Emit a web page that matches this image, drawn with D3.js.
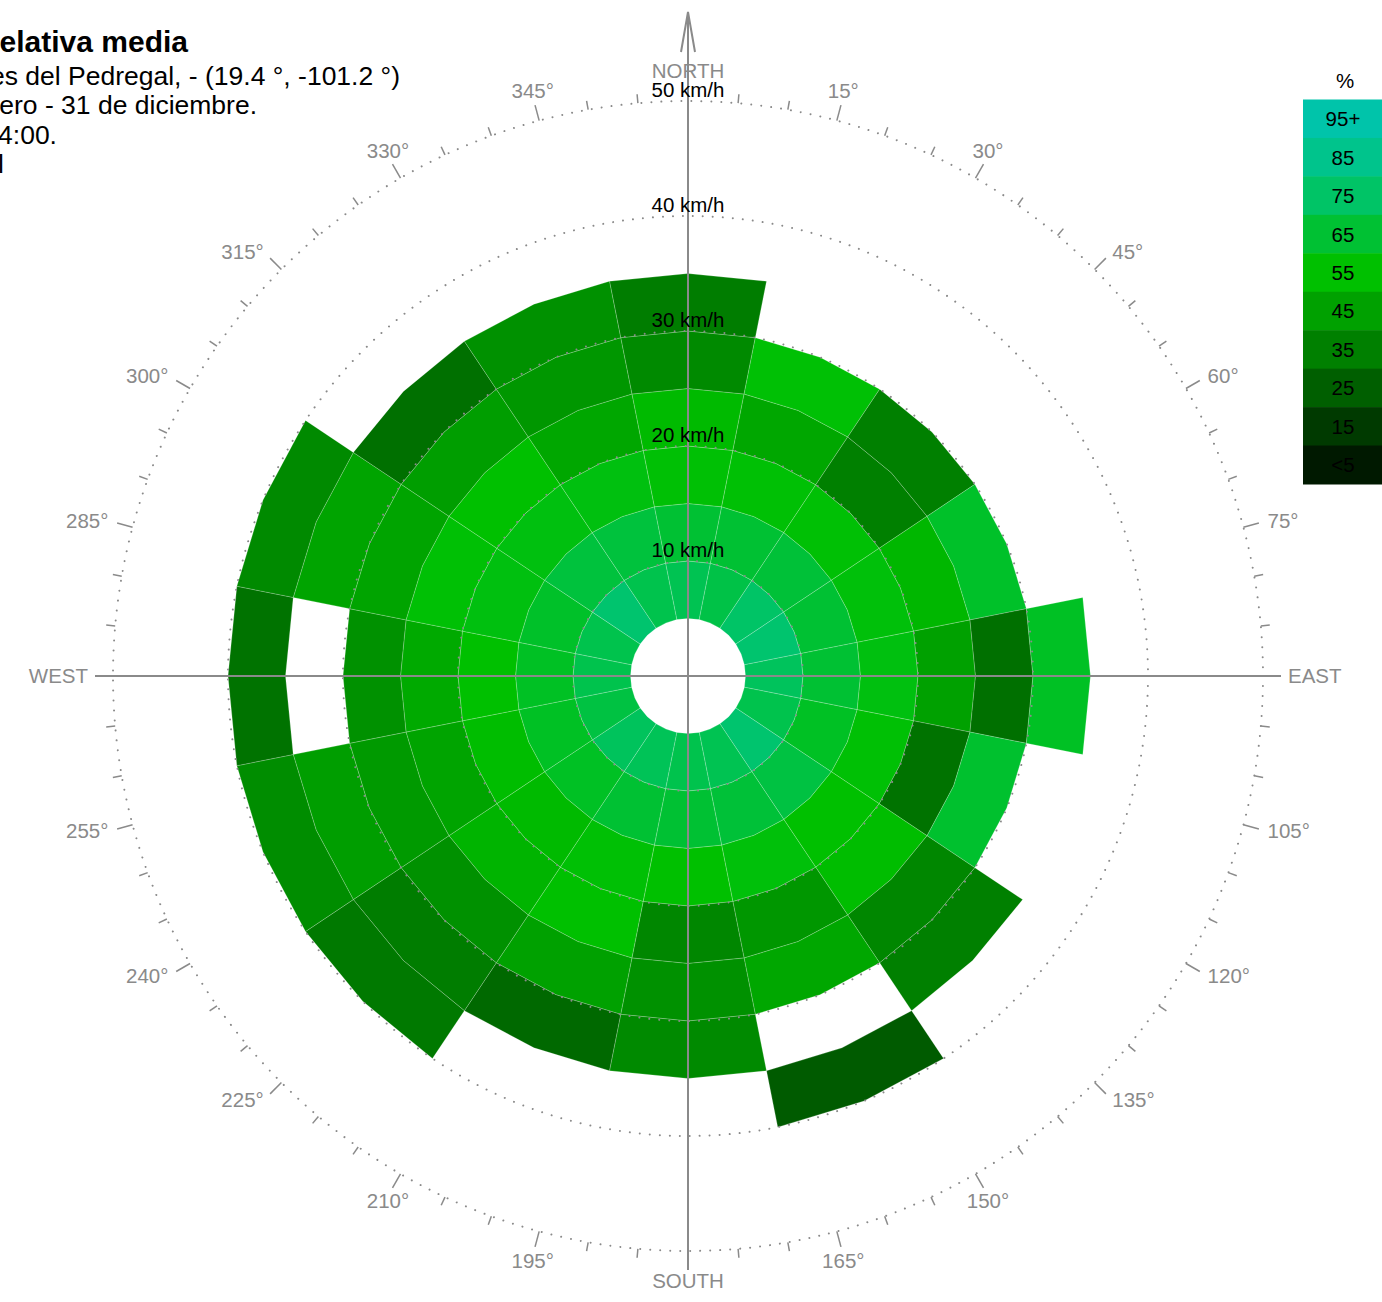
<!DOCTYPE html>
<html><head><meta charset="utf-8">
<script src="https://cdn.jsdelivr.net/npm/d3@7"></script>
<style>
html,body{margin:0;padding:0;background:#fff;}
svg{display:block;font-family:"Liberation Sans", Arial, Helvetica, sans-serif;}
</style></head><body>
<svg id="chart" width="1382" height="1302"></svg>
<script>
// ---------- data ----------
const directions = ["N","NNE","NE","ENE","E","ESE","SE","SSE","S","SSW","SW","WSW","W","WNW","NW","NNW"];
const speedBinStart = [5, 10, 15, 20, 25, 30, 35];   // km/h, lower edge of each ring
const binWidth = 5;
// mean relative humidity (%) per direction, per speed ring (null = no data)
const hum_N   = [71, 65, 56, 53, 38, 34];
const hum_NNE = [69, 65, 56, 47, 56];
const hum_NE  = [75, 66, 56, 35, 35];
const hum_ENE = [77, 65, 57, 52, 63];
const hum_E   = [73, 65, 58, 45, 30, 62];
const hum_ESE = [70, 62, 56, 31, 64];
const hum_SE  = [77, 68, 55, 54, 37, 35];
const hum_SSE = [71, 66, 57, 42, 47, null, 24];
const hum_S   = [70, 65, 55, 37, 40, 38];
const hum_SSW = [72, 65, 56, 55, 45, 28];
const hum_SW  = [73, 62, 53, 51, 40, 34, 33];
const hum_WSW = [68, 62, 54, 46, 43, 44, 39];
const hum_W   = [70, 62, 55, 48, 40, null, 31];
const hum_WNW = [70, 63, 58, 56, 46, 46, 38];
const hum_NW  = [77, 67, 58, 55, 44, 30];
const hum_NNW = [70, 67, 58, 47, 42, 40];
const humidity = [hum_N, hum_NNE, hum_NE, hum_ENE, hum_E, hum_ESE, hum_SE, hum_SSE,
                  hum_S, hum_SSW, hum_SW, hum_WSW, hum_W, hum_WNW, hum_NW, hum_NNW];

const legendLabels = ["95+", "85", "75", "65", "55", "45", "35", "25", "15", "<5"];
const legendValues = [95, 85, 75, 65, 55, 45, 35, 25, 15, 5];
const legendColors = ["#00c4aa", "#00c48c", "#00c466", "#00c133", "#00c000", "#00a100", "#008000", "#005f00", "#003a00", "#001900"];

const speedRings = [10, 20, 30, 40, 50];
const degreeLabels = [15, 30, 45, 60, 75, 105, 120, 135, 150, 165, 195, 210, 225, 240, 255, 285, 300, 315, 330, 345];
const cardinalLabels = ["NORTH", "EAST", "SOUTH", "WEST"];
const cardinalAngles = [0, 90, 180, 270];

const titleText = "Humedad relativa media";
const subtitleLines = [
  "Rosa de vientos: Jardines del Pedregal, - (19.4 °, -101.2 °)",
  "Periodo: 1 de enero - 31 de diciembre.",
  "Horas: 00:00 - 24:00.",
  "Promedio anual"
];

// ---------- layout ----------
const svg = d3.select("#chart");
const cx = 688, cy = 676;
const rScale = d3.scaleLinear().domain([0, 50]).range([0, 575]);
const aScale = d3.scaleLinear().domain([0, 360]).range([0, 2 * Math.PI]);
const color = d3.scaleLinear()
  .domain(legendValues.slice().reverse())
  .range(legendColors.slice().reverse())
  .clamp(true);
const gray = "#8a8a8a";
const sector = 360 / directions.length;

const g = svg.append("g").attr("transform", `translate(${cx},${cy})`);

// ---------- cells ----------
const cellLine = d3.lineRadial()
  .angle(d => aScale(d[0]))
  .radius(d => rScale(d[1]))
  .curve(d3.curveLinearClosed);

const cells = [];
humidity.forEach((arr, i) => {
  const c = i * sector, a0 = c - sector / 2, a1 = c + sector / 2;
  arr.forEach((v, j) => {
    if (v === null || v === undefined) return;
    const inner = speedBinStart[j], outer = inner + binWidth;
    cells.push({v, pts: [[a0, inner], [c, inner], [a1, inner], [a1, outer], [c, outer], [a0, outer]]});
  });
});
g.append("g").selectAll("path").data(cells).join("path")
  .attr("d", d => cellLine(d.pts))
  .attr("fill", d => color(d.v))
  .attr("stroke", "rgba(255,255,255,0.35)")
  .attr("stroke-width", 0.6);

// ---------- dotted speed rings ----------
g.append("g").selectAll("circle").data(speedRings).join("circle")
  .attr("r", d => rScale(d))
  .attr("fill", "none")
  .attr("stroke", gray)
  .attr("stroke-width", 2)
  .attr("stroke-linecap", "round")
  .attr("stroke-dasharray", "0.01 10");

// ---------- ticks ----------
const tickAngles = d3.range(0, 360, 5);
g.append("g").selectAll("line").data(tickAngles).join("line")
  .each(function(d) {
    const a = aScale(d), s = Math.sin(a), c = Math.cos(a);
    const r0 = rScale(50), r1 = r0 + (d % 15 === 0 ? 16 : 9);
    d3.select(this).attr("x1", r0 * s).attr("y1", -r0 * c).attr("x2", r1 * s).attr("y2", -r1 * c);
  })
  .attr("stroke", gray).attr("stroke-width", 1.5);

// ---------- axes ----------
const axisG = g.append("g").attr("stroke", gray).attr("stroke-width", 2).attr("fill", "none");
axisG.append("line").attr("x1", -593).attr("y1", 0).attr("x2", 593).attr("y2", 0);
axisG.append("line").attr("x1", 0).attr("y1", 594).attr("x2", 0).attr("y2", -664);
axisG.append("polyline").attr("points", `-7,-624 0,-664 7,-624`);

// ---------- angular labels (degrees + cardinals) ----------
const labelR = 600;
function placeLabel(sel, deg) {
  const a = aScale(deg), s = Math.sin(a), c = Math.cos(a);
  const px = labelR * s, py = -labelR * c;
  if (Math.abs(s) > 0.6) {
    sel.attr("text-anchor", s > 0 ? "start" : "end")
       .attr("x", px).attr("y", py + 7);
  } else {
    sel.attr("text-anchor", "middle")
       .attr("x", px).attr("y", py - 5 * Math.sign(c) + 7);
  }
}
g.append("g").selectAll("text").data(degreeLabels).join("text")
  .attr("fill", gray)
  .attr("font-size", 20.5)
  .each(function(d) { placeLabel(d3.select(this), d); })
  .text(d => d + "°");

g.append("g").selectAll("text").data(cardinalLabels).join("text")
  .attr("fill", gray)
  .attr("font-size", 20.5)
  .each(function(d, i) { placeLabel(d3.select(this), cardinalAngles[i]); })
  .text(d => d);

// ---------- speed labels ----------
g.append("g").selectAll("text").data(speedRings).join("text")
  .attr("x", 0)
  .attr("y", d => -rScale(d) - 4)
  .attr("text-anchor", "middle")
  .attr("font-size", 20.5)
  .attr("fill", "#000")
  .text(d => d + " km/h");

// ---------- legend ----------
const legX = 1303, legY = 99.5, legH = 38.45, legW = 79;
svg.append("text").attr("x", 1345).attr("y", 88).attr("text-anchor", "middle")
  .attr("font-size", 20.5).attr("fill", "#000").text("%");
const leg = svg.append("g");
leg.selectAll("rect").data(legendLabels).join("rect")
  .attr("x", legX).attr("y", (d, i) => legY + i * legH)
  .attr("width", legW).attr("height", legH + 0.5)
  .attr("fill", (d, i) => legendColors[i]);
leg.selectAll("text").data(legendLabels).join("text")
  .attr("x", 1343).attr("y", (d, i) => legY + i * legH + legH / 2 + 7.5)
  .attr("text-anchor", "middle").attr("font-size", 20.5).attr("fill", "#000")
  .text(d => d);

// ---------- title ----------
svg.append("text").attr("x", 188).attr("y", 52).attr("text-anchor", "end")
  .attr("font-size", 30).attr("font-weight", "bold").attr("fill", "#000").text(titleText);
const subY = [84.5, 113.5, 143.5, 172.5];
const subX = [400, 257, 57, 4];
svg.append("g").selectAll("text").data(subtitleLines).join("text")
  .attr("x", (d, i) => subX[i]).attr("y", (d, i) => subY[i])
  .attr("text-anchor", "end").attr("font-size", 26.5).attr("fill", "#000")
  .text(d => d);
</script>
</body></html>
